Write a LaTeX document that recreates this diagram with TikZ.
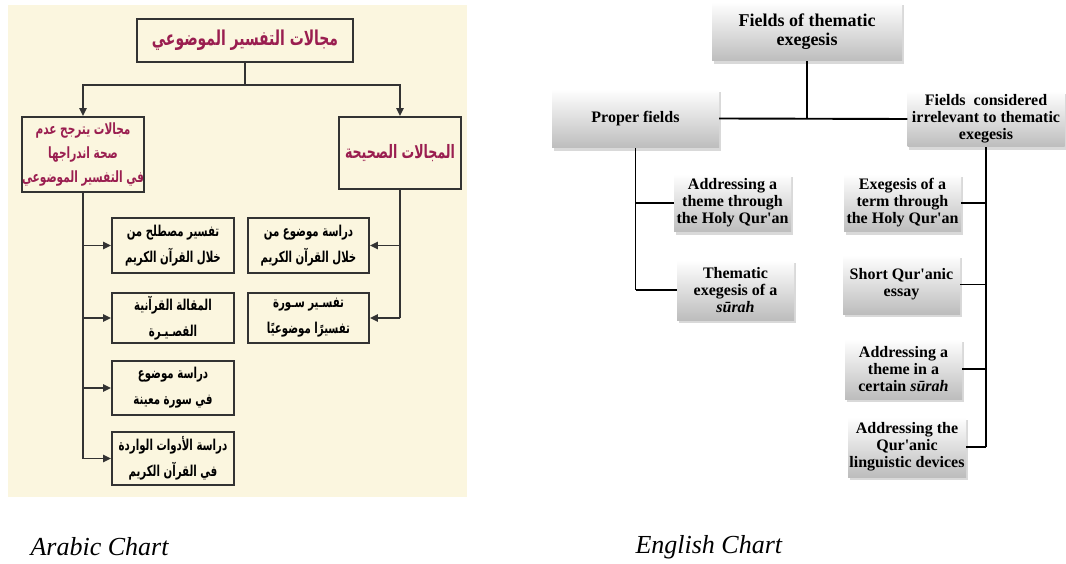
\documentclass[tikz,border=0pt]{standalone}
\usepackage{fontspec}
\setmainfont{Liberation Serif}[Ligatures=TeXOff]
\newfontfamily\arabicfont[Script=Arabic, FakeStretch=0.68]{DejaVu Sans}
\usetikzlibrary{shadows,arrows.meta}
\TeXXeTstate=1
\definecolor{beige}{HTML}{FBF6DF}
\definecolor{crim}{HTML}{9A1E50}
\definecolor{lnc}{HTML}{333333}
\newcommand{\RL}[1]{\beginR #1\endR}
\tikzset{
  abox/.style={draw=lnc, line width=1.7pt, align=center, inner sep=0pt,
    font=\arabicfont\bfseries\fontsize{15}{26}\selectfont},
  ahead/.style={abox, text=crim},
  aline/.style={draw=lnc, line width=1.9pt},
  aarr/.style={aline, -{Triangle[length=8pt,width=7pt]}},
  ebox/.style={top color=white, bottom color=gray!52, align=center, inner sep=0pt,
    drop shadow={shadow xshift=1.5pt, shadow yshift=-3pt, opacity=0.3, fill=gray},
    font=\bfseries\fontsize{16}{17}\selectfont},
  eline/.style={draw=black, line width=1.9pt},
  caption/.style={anchor=base west, font=\itshape\fontsize{26}{28}\selectfont}
}
\begin{document}
\begin{tikzpicture}[x=1pt,y=-1pt]
\useasboundingbox (0,0) rectangle (1066,564);
\fill[beige] (8,5) rectangle (467,497);
% ---------- Arabic chart ----------
\node[ahead, minimum width=216pt, minimum height=43pt, font=\arabicfont\bfseries\fontsize{20.5}{25}\selectfont] (T) at (245,40.5) {\RL{مجالات التفسير الموضوعي}};
\node[ahead, minimum width=122pt, minimum height=75pt, font=\arabicfont\bfseries\fontsize{15.5}{24}\selectfont] (AL) at (83,154.5) {\RL{مجالات يترجح عدم}\\\RL{صحة اندراجها}\\\RL{في التفسير الموضوعي}};
\node[ahead, minimum width=122pt, minimum height=72pt, font=\arabicfont\bfseries\fontsize{18.5}{25}\selectfont] (AR) at (400,153) {\RL{المجالات الصحيحة}};
\node[abox, minimum width=122pt, minimum height=55pt] (L1) at (173,245.5) {\RL{تفسير مصطلح من}\\\RL{خلال القرآن الكريم}};
\node[abox, minimum width=122pt, minimum height=50pt] (L2) at (173,318) {\RL{المقالة القرآنية}\\\RL{القصـيـرة}};
\node[abox, minimum width=122pt, minimum height=54pt] (L3) at (173,388) {\RL{دراسة موضوع}\\\RL{في سورة معينة}};
\node[abox, minimum width=122pt, minimum height=53pt] (L4) at (173,458.5) {\RL{دراسة الأدوات الواردة}\\\RL{في القرآن الكريم}};
\node[abox, minimum width=121pt, minimum height=55pt] (R1) at (308.5,245.5) {\RL{دراسة موضوع من}\\\RL{خلال القرآن الكريم}};
\node[abox, minimum width=121pt, minimum height=50pt] (R2) at (308.5,318) {\RL{تفسـير سـورة}\\\RL{تفسيرًا موضوعيًا}};
\coordinate (tj) at (245,85);
\draw[aline] (T.south) -- (tj);
\draw[aarr] (tj) -| (AL.north);
\draw[aarr] (tj) -| (AR.north);
\draw[aline] (AL.south) -- (AL.south |- L4.west);
\foreach \n in {L1,L2,L3,L4} \draw[aarr] (AL.south |- \n.west) -- (\n.west);
\draw[aline] (AR.south) -- (AR.south |- R2.east);
\foreach \n in {R1,R2} \draw[aarr] (AR.south |- \n.east) -- (\n.east);
% ---------- English chart ----------
\node[ebox, minimum width=190pt, minimum height=59pt, font=\bfseries\fontsize{18}{19}\selectfont] (E0) at (807,31.5) {Fields of thematic\\exegesis};
\node[ebox, minimum width=167pt, minimum height=59pt] (EP) at (635.5,118.5) {Proper fields};
\node[ebox, minimum width=157pt, minimum height=56pt] (EI) at (986,119) {Fields\ \ considered\\irrelevant to thematic\\exegesis};
\node[ebox, minimum width=117pt, minimum height=58pt] (P1) at (732.5,203) {Addressing a\\theme through\\the Holy Qur'an};
\node[ebox, minimum width=117pt, minimum height=60pt] (P2) at (735.5,290) {Thematic\\exegesis of a\\\textit{sūrah}};
\node[ebox, minimum width=117pt, minimum height=58pt] (I1) at (902.5,203) {Exegesis of a\\term through\\the Holy Qur'an};
\node[ebox, minimum width=117pt, minimum height=59pt] (I2) at (901.5,284.5) {Short Qur'anic\\essay};
\node[ebox, minimum width=117pt, minimum height=60pt] (I3) at (903.5,369) {Addressing a\\theme in a\\certain \textit{sūrah}};
\node[ebox, minimum width=118pt, minimum height=60pt] (I4) at (907,447) {Addressing the\\Qur'anic\\linguistic devices};
\coordinate (ej) at (807,118.5);
\draw[eline] (E0.south) -- (ej);
\draw[eline] (EP.east) -- (EI.west);
\draw[eline] (EP.south) -- (EP.south |- P2.west);
\foreach \n in {P1,P2} \draw[eline] (EP.south |- \n.west) -- (\n.west);
\draw[eline] (EI.south) -- (EI.south |- I4.east);
\foreach \n in {I1,I2,I3,I4} \draw[eline] (EI.south |- \n.east) -- (\n.east);
% ---------- captions ----------
\node[caption] (capA) at (27,555) {Arabic Chart};
\node[caption] (capE) at (632,553) {English Chart};
\end{tikzpicture}
\end{document}
